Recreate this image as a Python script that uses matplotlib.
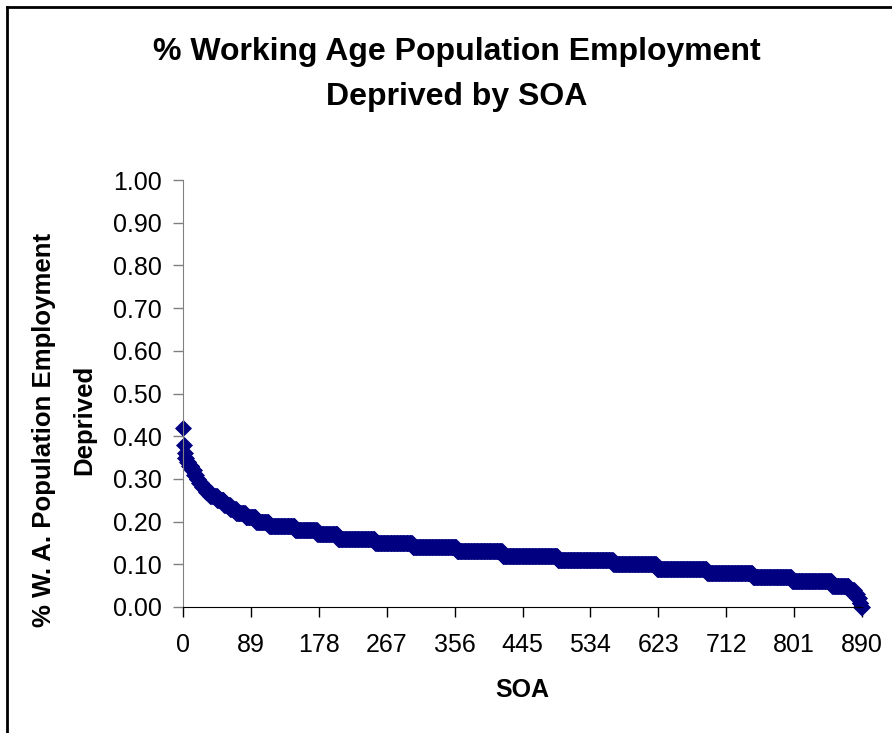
import numpy as np
import matplotlib.pyplot as plt
from matplotlib.lines import Line2D

# share of working age population employment deprived, levels
levels = [0.42, 0.38, 0.36, 0.35, 0.34, 0.33, 0.32, 0.31, 0.30, 0.29,
          0.28, 0.27, 0.26, 0.25, 0.24, 0.23, 0.22, 0.21, 0.20, 0.19,
          0.18, 0.17, 0.16, 0.15, 0.14, 0.13, 0.12, 0.11, 0.10, 0.09,
          0.08, 0.07, 0.06, 0.05, 0.04, 0.03, 0.02, 0.01, 0.00]
# number of SOAs sitting at each level (sorted, descending)
counts = [1, 1, 1, 2, 3, 4, 3, 3, 3, 4,
          5, 6, 9, 9, 8, 8, 12, 14, 17, 34,
          29, 27, 49, 49, 58, 60, 72, 73, 57, 66,
          60, 51, 53, 22, 7, 4, 3, 2, 2]
xticks = [0, 89, 178, 267, 356, 445, 534, 623, 712, 801, 890]
yticks = [0.0, 0.1, 0.2, 0.3, 0.4, 0.5, 0.6, 0.7, 0.8, 0.9, 1.0]

vals = np.repeat(levels, counts)
soa = np.arange(len(vals))

plt.rcParams['font.family'] = ['Liberation Sans', 'DejaVu Sans']

fig = plt.figure(figsize=(8.92, 7.33), dpi=100)
ax = fig.add_axes([183 / 892, 1 - 607 / 733, (862 - 183) / 892, (607 - 180) / 733])

ax.plot(soa, vals, linestyle='none', marker='D', markersize=7.8,
        color='#000080', markeredgecolor='#000080', markeredgewidth=0.5,
        clip_on=False)

ax.set_xlim(0, 890)
ax.set_ylim(0, 1.0)
ax.set_xticks(xticks)
ax.set_yticks(yticks)
ax.set_yticklabels([f"{v:.2f}" for v in yticks])
ax.tick_params(axis='both', labelsize=18, length=7, width=1, direction='out')
ax.tick_params(axis='x', pad=12)
ax.tick_params(axis='y', pad=8, color='#808080')

for side in ['top', 'right']:
    ax.spines[side].set_visible(False)
ax.spines['left'].set_color('#808080')
ax.spines['bottom'].set_color('black')

fig.text(457 / 892, 1 - 52 / 733, "% Working Age Population Employment",
         ha='center', va='center', fontsize=23, fontweight='bold')
fig.text(457 / 892, 1 - 97 / 733, "Deprived by SOA",
         ha='center', va='center', fontsize=23, fontweight='bold')

fig.text(44 / 892, 1 - 430 / 733, "% W. A. Population Employment",
         rotation=90, ha='center', va='center', fontsize=18.5, fontweight='bold')
fig.text(84 / 892, 1 - 420 / 733, "Deprived",
         rotation=90, ha='center', va='center', fontsize=18.5, fontweight='bold')

fig.text(522 / 892, 1 - 690 / 733, "SOA",
         ha='center', va='center', fontsize=18, fontweight='bold')

# chart frame (only top and left visible in the picture)
fig.add_artist(Line2D([7 / 892, 7 / 892], [0, 1 - 7 / 733], color='black', lw=2,
                      transform=fig.transFigure))
fig.add_artist(Line2D([7 / 892, 1], [1 - 7 / 733, 1 - 7 / 733], color='black', lw=2,
                      transform=fig.transFigure))

fig.savefig("out.png", dpi=100)
